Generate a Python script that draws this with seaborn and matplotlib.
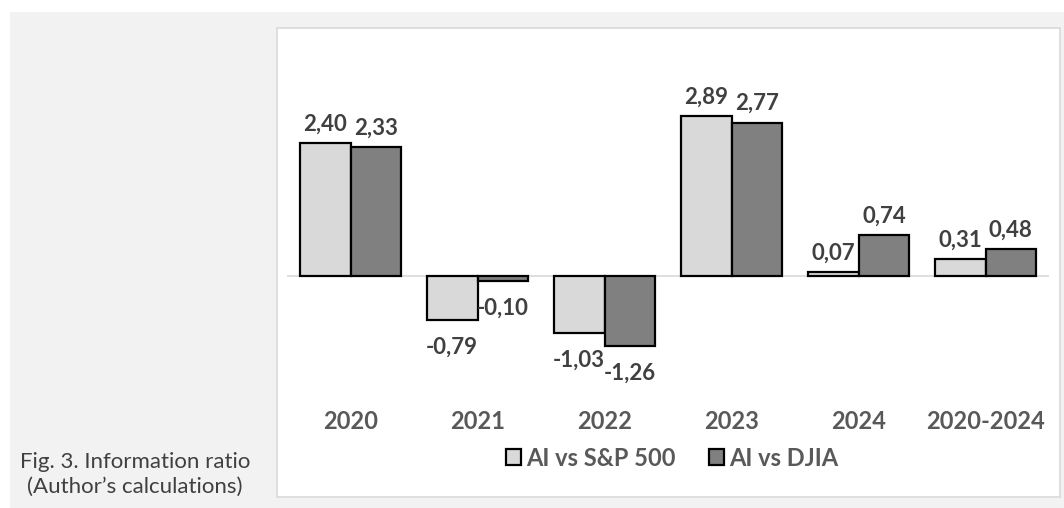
import matplotlib
matplotlib.use("Agg")
import matplotlib.pyplot as plt
from matplotlib.patches import Rectangle
import pandas as pd
import seaborn as sns

# data
periods = ["2020", "2021", "2022", "2023", "2024", "2020-2024"]
series = ["AI vs S&P 500", "AI vs DJIA"]
ai_vs_sp500 = [2.40, -0.79, -1.03, 2.89, 0.07, 0.31]
ai_vs_djia = [2.33, -0.10, -1.26, 2.77, 0.74, 0.48]
caption = "Fig. 3. Information ratio\n(Author\u2019s calculations)"

df = pd.DataFrame({
    "period": periods * 2,
    "ratio": ai_vs_sp500 + ai_vs_djia,
    "series": [series[0]] * len(periods) + [series[1]] * len(periods),
})

sns.set_style("white")
plt.rcParams["font.family"] = ["Lato", "DejaVu Sans"]

W, H = 1064, 508
fig = plt.figure(figsize=(W / 100, H / 100), dpi=100, facecolor="white")

# gray page background and white chart box
fig.add_artist(Rectangle((10 / W, 0), 1 - 10 / W, (H - 12) / H, transform=fig.transFigure,
                         facecolor="#f2f2f2", edgecolor="none", zorder=-3))
fig.add_artist(Rectangle((277 / W, (H - 497) / H), 783 / W, 469 / H, transform=fig.transFigure,
                         facecolor="white", edgecolor="#d9d9d9", linewidth=1.2, zorder=-2))

ax = fig.add_axes([287 / W, (H - 400) / H, 762 / W, 360 / H])
ax.set_facecolor("none")

sns.barplot(data=df, x="period", y="ratio", hue="series", order=periods, hue_order=series,
            palette=["#d9d9d9", "#808080"], edgecolor="black", linewidth=1.6,
            width=0.8, errorbar=None, ax=ax)
ax.axhline(0, color="#d9d9d9", linewidth=1.2, zorder=0.5)

ax.set_xlim(-0.5, len(periods) - 0.5)
ax.set_ylim(-2.24, 4.26)
for s in ax.spines.values():
    s.set_visible(False)
ax.set_yticks([])
ax.set_xlabel("")
ax.set_ylabel("")
ax.tick_params(axis="x", length=0, pad=7)
for lab in ax.get_xticklabels():
    lab.set_fontsize(17)
    lab.set_fontweight("bold")
    lab.set_color("#595959")

# value labels: positives above the bar, negatives a bit further below it
for cont in ax.containers:
    vals = [b.get_height() for b in cont]
    pos = [f"{v:.2f}".replace(".", ",") if v >= 0 else "" for v in vals]
    neg = [f"{v:.2f}".replace(".", ",") if v < 0 else "" for v in vals]
    ax.bar_label(cont, labels=pos, padding=6, fontsize=16, fontweight="bold", color="#404040")
    ax.bar_label(cont, labels=neg, padding=12, fontsize=16, fontweight="bold", color="#404040")

leg = ax.legend(loc="center", bbox_to_anchor=(672 / W, 1 - 458 / H), bbox_transform=fig.transFigure,
                ncol=2, frameon=False, handlelength=0.65, handleheight=0.65, handletextpad=0.2,
                columnspacing=1.4, prop={"size": 17, "weight": "bold"})
for t in leg.get_texts():
    t.set_color("#595959")
for h in leg.legend_handles:
    h.set_edgecolor("black")
    h.set_linewidth(1.6)

fig.text(135 / W, 1 - 474 / H, caption, ha="center", va="center", fontsize=16,
         color="#404040", linespacing=1.3)

plt.savefig("out.png", dpi=100, facecolor=fig.get_facecolor())
plt.close("all")
